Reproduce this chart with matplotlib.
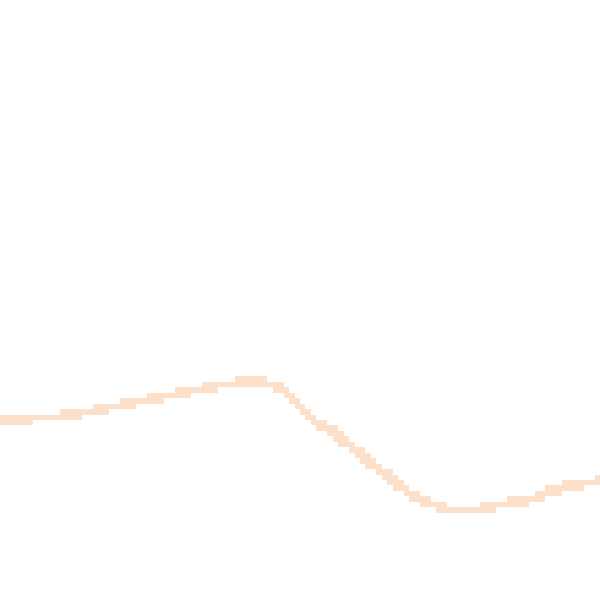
import numpy as np
import matplotlib
matplotlib.use('Agg')
from matplotlib import pyplot as plt

# curve (x position, value), no axes shown
x_vals = [0, 30, 50, 75, 100, 125, 150, 175, 200, 225, 250, 270, 285, 300,
          310, 315, 330, 350, 370, 390, 410, 430, 450, 470, 490, 510, 530,
          550, 570, 590, 600]
y_vals = [181, 181, 182, 186, 191, 196, 201, 206, 211, 215, 219, 216, 208, 194,
          182, 179, 170, 154, 138, 122, 106, 96, 90, 89, 93, 97, 100,
          108, 115, 116, 121]
line_color = '#fde0ca'

# the reference looks like a 110x110 render blown up, so draw it small first
small = plt.figure(figsize=(1.1, 1.1), dpi=100)
sax = small.add_axes([0, 0, 1, 1])
sax.plot(x_vals, y_vals, color=line_color, linewidth=0.3, antialiased=False)
sax.set_xlim(0, 600)
sax.set_ylim(0, 600)
sax.axis('off')
small.canvas.draw()
img = np.asarray(small.canvas.buffer_rgba()).copy()
plt.close(small)

fig = plt.figure(figsize=(6, 6), dpi=100)
ax = fig.add_axes([0, 0, 1, 1])
ax.imshow(img, interpolation='nearest', extent=(0, 600, 0, 600), aspect='auto')
ax.axis('off')
fig.savefig('out.png', dpi=100)
